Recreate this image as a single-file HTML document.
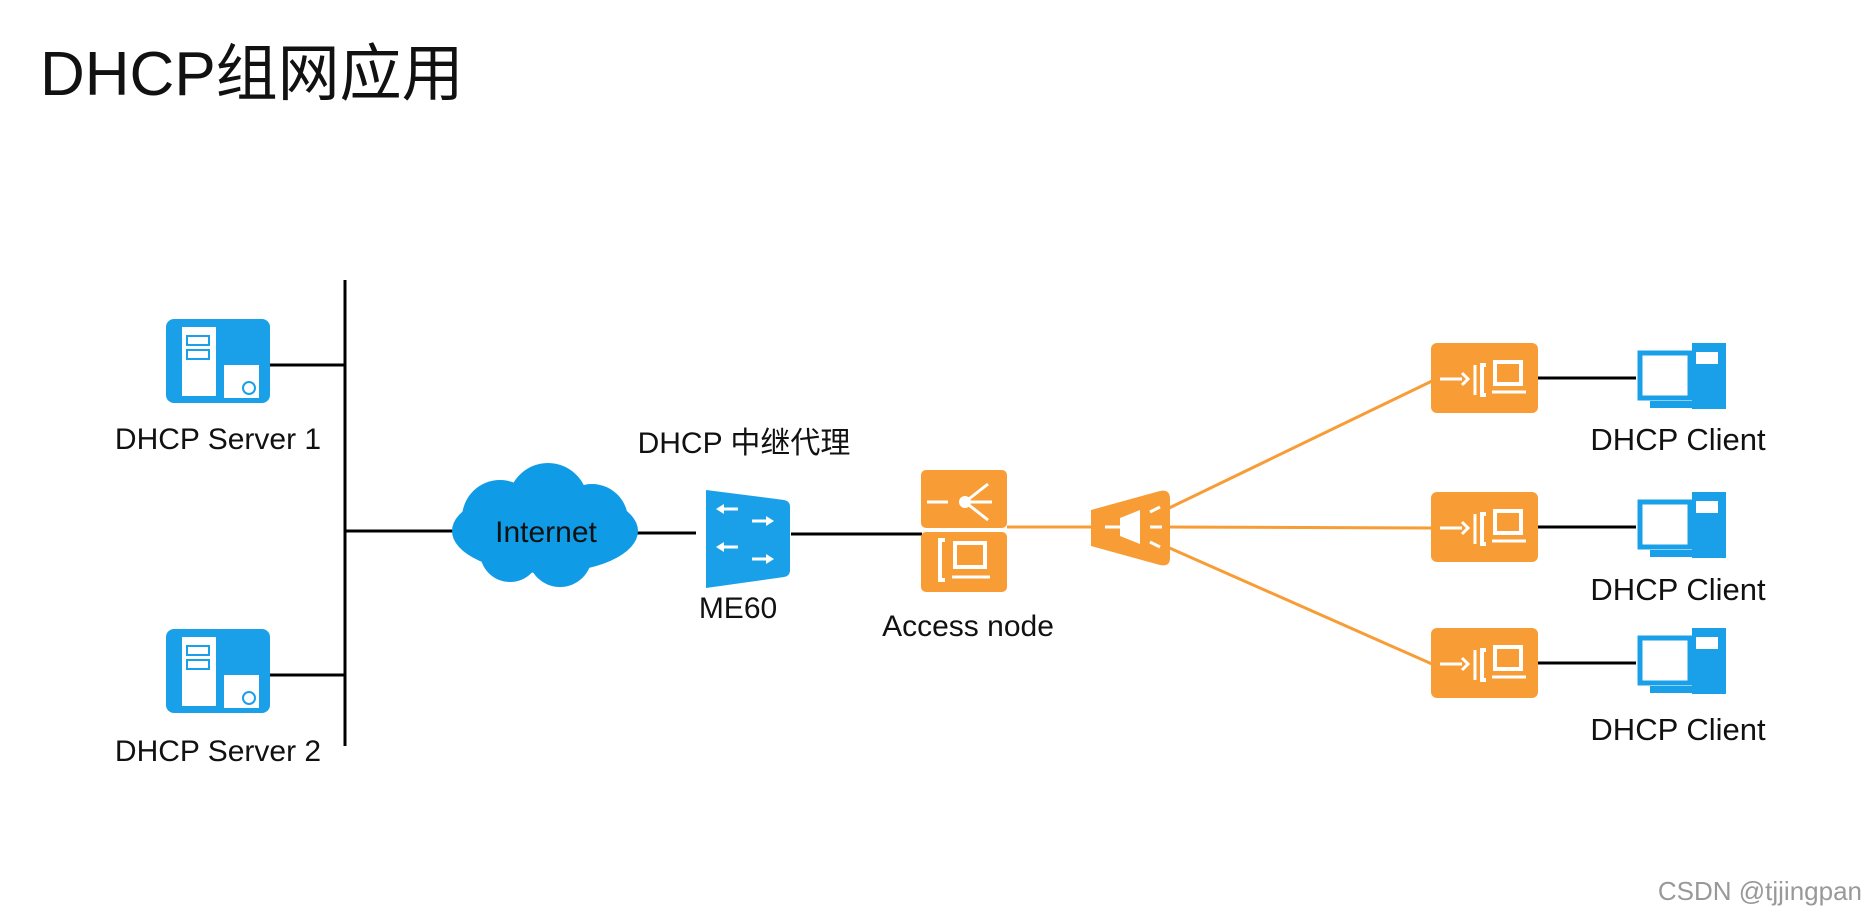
<!DOCTYPE html>
<html><head><meta charset="utf-8"><style>
html,body{margin:0;padding:0;background:#fff;}
svg{display:block}
text{font-family:"Liberation Sans","Noto Sans CJK SC",sans-serif;fill:#111;}
</style></head><body>
<svg width="1866" height="922" viewBox="0 0 1866 922" xmlns="http://www.w3.org/2000/svg">
<text x="40" y="95" font-size="62">DHCP组网应用</text>

<!-- bus -->
<line x1="345" y1="280" x2="345" y2="746" stroke="#000" stroke-width="3"/>
<line x1="269" y1="365" x2="345" y2="365" stroke="#000" stroke-width="3"/>
<line x1="269" y1="675" x2="345" y2="675" stroke="#000" stroke-width="3"/>
<line x1="345" y1="531" x2="455" y2="531" stroke="#000" stroke-width="3"/>
<line x1="636" y1="533" x2="696" y2="533" stroke="#000" stroke-width="3"/>
<line x1="791" y1="534" x2="922" y2="534" stroke="#000" stroke-width="3"/>

<!-- servers -->
<g id="srv">
<rect x="166" y="319" width="104" height="84" rx="8" fill="#1aa0e8"/>
<rect x="182" y="327" width="34" height="69" fill="#fff"/>
<rect x="187" y="336" width="22" height="9" fill="none" stroke="#1aa0e8" stroke-width="2"/>
<rect x="187" y="350" width="22" height="9" fill="none" stroke="#1aa0e8" stroke-width="2"/>
<rect x="224" y="365" width="35" height="33" fill="#fff"/>
<circle cx="249" cy="388" r="6" fill="none" stroke="#1aa0e8" stroke-width="2"/>
</g>
<use href="#srv" transform="translate(0,310)"/>
<text x="218" y="449" font-size="30" text-anchor="middle">DHCP Server 1</text>
<text x="218" y="761" font-size="30" text-anchor="middle">DHCP Server 2</text>

<!-- cloud -->
<g fill="#0f9be6">
<ellipse cx="545" cy="531" rx="93" ry="42"/>
<circle cx="548" cy="503" r="40"/>
<circle cx="500" cy="518" r="38"/>
<circle cx="592" cy="520" r="36"/>
<circle cx="560" cy="555" r="32"/>
<circle cx="510" cy="552" r="30"/>
</g>
<text x="546" y="542" font-size="30" text-anchor="middle">Internet</text>

<!-- ME60 -->
<path d="M706 490 L784 500 Q790 501 790 507 L790 570 Q790 576 784 577 L706 588 Z" fill="#1aa0e8"/>
<g stroke="#fff" stroke-width="3" fill="#fff">
<line x1="722" y1="509" x2="738" y2="509"/><path d="M716 509 l8 -5 v10z" stroke="none"/>
<line x1="752" y1="521" x2="768" y2="521"/><path d="M774 521 l-8 -5 v10z" stroke="none"/>
<line x1="722" y1="547" x2="738" y2="547"/><path d="M716 547 l8 -5 v10z" stroke="none"/>
<line x1="752" y1="559" x2="768" y2="559"/><path d="M774 559 l-8 -5 v10z" stroke="none"/>
</g>
<text x="744" y="453" font-size="30" text-anchor="middle">DHCP 中继代理</text>
<text x="738" y="618" font-size="30" text-anchor="middle">ME60</text>

<!-- access node -->
<rect x="921" y="470" width="86" height="58" rx="5" fill="#f89c36"/>
<rect x="921" y="532" width="86" height="60" rx="5" fill="#f89c36"/>
<g stroke="#fff" stroke-width="3" fill="#fff">
<line x1="927" y1="502" x2="948" y2="502"/><circle cx="965" cy="502" r="6" stroke="none"/>
<line x1="965" y1="502" x2="988" y2="484"/><line x1="965" y1="502" x2="992" y2="502"/><line x1="965" y1="502" x2="988" y2="520"/>
<path d="M945 540 h-5 v40 h5" fill="none" stroke-width="4"/>
<rect x="955" y="543" width="30" height="24" fill="none" stroke-width="4"/>
<line x1="952" y1="577" x2="990" y2="577"/>
</g>
<text x="968" y="636" font-size="30" text-anchor="middle">Access node</text>

<!-- orange lines -->
<g stroke="#f89c36" stroke-width="3">
<line x1="1007" y1="527" x2="1092" y2="527"/>
<line x1="1165" y1="510" x2="1432" y2="381"/>
<line x1="1165" y1="527" x2="1432" y2="528"/>
<line x1="1165" y1="546" x2="1432" y2="664"/>
</g>
<!-- splitter -->
<path d="M1091 510 L1160 491 Q1170 489 1170 499 L1170 558 Q1170 567 1160 565 L1091 546 Z" fill="#f89c36"/>
<g stroke="#fff" stroke-width="3"><line x1="1105" y1="527" x2="1125" y2="527"/><line x1="1150" y1="512" x2="1160" y2="507"/><line x1="1150" y1="527" x2="1162" y2="527"/><line x1="1150" y1="542" x2="1160" y2="547"/></g>
<path d="M1120 518 L1140 510 L1140 544 L1120 536Z" fill="#fff"/>

<!-- ONTs and PCs -->
<g id="ont">
<rect x="1431" y="343" width="107" height="70" rx="6" fill="#f89c36"/>
<g stroke="#fff" stroke-width="3" fill="none">
<line x1="1440" y1="379" x2="1462" y2="379"/><path d="M1462 373 l6 6 l-6 6" />
<line x1="1475" y1="365" x2="1475" y2="395"/>
<path d="M1486 365 h-4 v30 h4" stroke-width="4"/>
<rect x="1495" y="362" width="26" height="22" stroke-width="4"/>
<line x1="1492" y1="392" x2="1526" y2="392"/>
</g>
<line x1="1538" y1="378" x2="1636" y2="378" stroke="#000" stroke-width="3"/>
<rect x="1640" y="353" width="50" height="45" fill="#fff" stroke="#1aa0e8" stroke-width="5"/>
<rect x="1692" y="343" width="34" height="66" fill="#1aa0e8"/>
<rect x="1696" y="352" width="22" height="12" fill="#fff"/>
<rect x="1650" y="401" width="42" height="7" fill="#1aa0e8"/>
</g>
<use href="#ont" transform="translate(0,149)"/>
<use href="#ont" transform="translate(0,285)"/>
<text x="1678" y="450" font-size="31" text-anchor="middle">DHCP Client</text>
<text x="1678" y="600" font-size="31" text-anchor="middle">DHCP Client</text>
<text x="1678" y="740" font-size="31" text-anchor="middle">DHCP Client</text>

<text x="1862" y="900" font-size="26" text-anchor="end" style="fill:#999">CSDN @tjjingpan</text>
</svg>
</body></html>
